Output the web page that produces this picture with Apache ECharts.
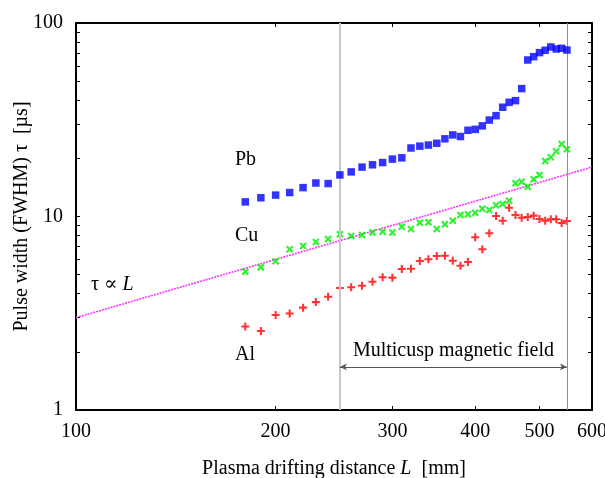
<!DOCTYPE html>
<html>
<head>
<meta charset="utf-8">
<script src="https://cdn.jsdelivr.net/npm/echarts@6/dist/echarts.min.js"></script>
<style>html,body{margin:0;padding:0;background:#fff}#c{width:605px;height:478px}</style>
</head>
<body>
<div id="c"></div>
<script>
// ---- data ----
const distance = [180,190,200,210,220,230,240,250,260,270,280,290,300,310,320,330,340,350,360,370,380,390,400,410,420,430,440,450,460,470,480,490,500,510,520,530,540,550];
const pb = [11.9,12.5,12.9,13.3,14.1,14.9,14.8,16.4,17.0,18.0,18.5,19.0,19.8,20.1,22.6,23.1,23.4,23.9,25.2,26.4,25.9,27.9,28.2,29.4,31.5,33.2,36.7,38.9,39.7,45.8,64.4,67.0,70.3,72.3,75.2,73.4,74.0,72.5];
const cu = [5.19,5.46,5.87,6.77,7.04,7.38,7.65,8.09,7.93,8.02,8.28,8.34,8.27,8.86,8.62,9.29,9.33,8.62,9.11,9.51,10.18,10.26,10.46,10.97,10.80,11.43,11.60,12.07,14.85,15.13,14.26,15.57,16.39,19.36,20.23,21.73,23.70,22.25];
const al = [2.70,2.56,3.10,3.15,3.38,3.61,3.85,4.27,4.31,4.39,4.60,4.85,4.83,5.35,5.37,5.89,6.01,6.25,6.27,5.91,5.57,5.82,7.81,6.77,8.19,10.06,9.51,11.10,10.18,9.86,9.94,10.10,9.71,9.51,9.67,9.67,9.26,9.48];
const fitL = [100, 600];
const fitTau = [3, 18];
const fieldStart = 250, fieldEnd = 550, arrowLevel = 1.67;
const xTickLabels = [100,200,300,400,500,600];
const xMinorTicks = [200,300,400,500];
const yTickLabels = [1,10,100];
const yMinorTicks = [2,3,4,5,6,7,8,9,10,20,30,40,50,60,70,80,90];

const FONT = '"Liberation Serif","DejaVu Serif",serif';
const FS = 20;
const plusPath = 'path://M3.7,0H6.3V3.7H10V6.3H6.3V10H3.7V6.3H0V3.7H3.7Z';

const chart = echarts.init(document.getElementById('c'), null, {renderer:'canvas'});
const baseX = {
  type:'log', logBase:10, min:100, max:600,
  axisLine:{show:true, onZero:false, lineStyle:{color:'#000', width:2}},
  splitLine:{show:false}, minorTick:{show:false}
};
const baseY = {
  type:'log', logBase:10, min:1, max:100,
  axisLine:{show:true, onZero:false, lineStyle:{color:'#000', width:2}},
  splitLine:{show:false}, minorTick:{show:false}
};
chart.setOption({
  animation:false,
  backgroundColor:'#fff',
  grid:{left:76, right:13, top:23, bottom:68, containLabel:false, outerBoundsMode:'none'},
  xAxis:[
    Object.assign({}, baseX, {
      position:'bottom',
      name:'Plasma drifting distance {i|L}  [mm]',
      nameLocation:'middle', nameGap:49, nameMoveOverlap:false,
      nameTextStyle:{fontFamily:FONT, fontSize:FS, color:'#000', rich:{i:{fontFamily:FONT, fontSize:FS, fontStyle:'italic', color:'#000'}}},
      axisTick:{show:true, inside:true, length:4, customValues:xMinorTicks, lineStyle:{color:'#000', width:1}},
      axisLabel:{show:true, customValues:xTickLabels, margin:12, fontFamily:FONT, fontSize:FS, color:'#000'}
    }),
    Object.assign({}, baseX, {
      position:'top',
      axisTick:{show:true, inside:true, length:4, customValues:xMinorTicks, lineStyle:{color:'#000', width:1}},
      axisLabel:{show:false}
    })
  ],
  yAxis:[
    Object.assign({}, baseY, {
      position:'left',
      name:'Pulse width (FWHM) τ  [µs]',
      nameLocation:'middle', nameGap:44, nameMoveOverlap:false,
      nameTextStyle:{fontFamily:FONT, fontSize:FS, color:'#000'},
      axisTick:{show:true, inside:true, length:4, customValues:yMinorTicks, lineStyle:{color:'#000', width:1}},
      axisLabel:{show:true, customValues:yTickLabels, margin:13, fontFamily:FONT, fontSize:FS, color:'#000'}
    }),
    Object.assign({}, baseY, {
      position:'right',
      axisTick:{show:true, inside:true, length:4, customValues:yMinorTicks, lineStyle:{color:'#000', width:1}},
      axisLabel:{show:false}
    })
  ],
  series:[
    {
      type:'line', name:'fit', data:fitL.map((l,i)=>[l,fitTau[i]]),
      showSymbol:false, symbol:'none', silent:true, z:2,
      lineStyle:{color:'#ff33ff', width:1.6, type:[2,1]},
      markLine:{
        silent:true, symbol:['none','none'], animation:false,
        label:{show:false},
        data:[
          {xAxis:fieldStart, lineStyle:{color:'#c8c8c8', width:2, type:'solid'}},
          {xAxis:fieldEnd, lineStyle:{color:'#909090', width:1, type:'solid'}}
        ]
      }
    },
    {
      type:'line', name:'arrow', data:[], silent:true,
      markLine:{
        silent:true, symbol:['arrow','arrow'], symbolSize:[5,7], animation:false,
        lineStyle:{color:'#555', width:1, type:'solid'},
        label:{show:true, position:'middle', distance:6, formatter:'Multicusp magnetic field', fontFamily:FONT, fontSize:FS, color:'#000'},
        data:[[{coord:[fieldStart, arrowLevel]},{coord:[fieldEnd, arrowLevel]}]]
      }
    },
    {
      type:'scatter', name:'Pb', data:distance.map((d,i)=>[d,pb[i]]),
      symbol:'rect', symbolSize:7.5, itemStyle:{color:'#0000ff'}, z:5
    },
    {
      type:'scatter', name:'Cu', data:distance.map((d,i)=>[d,cu[i]]),
      symbol:plusPath, symbolSize:8.5, symbolRotate:45, itemStyle:{color:'#00ee00'}, z:4
    },
    {
      type:'scatter', name:'Al', data:distance.map((d,i)=>[d,al[i]]),
      symbol:plusPath, symbolSize:8, itemStyle:{color:'#ff0000'}, z:4
    }
  ],
  graphic:[
    {type:'text', left:235, top:150, style:{text:'Pb', font:FS+'px '+FONT, fill:'#000'}},
    {type:'text', left:235, top:226, style:{text:'Cu', font:FS+'px '+FONT, fill:'#000'}},
    {type:'text', left:235, top:345, style:{text:'Al', font:FS+'px '+FONT, fill:'#000'}},
    {type:'text', left:91, top:275, style:{text:'τ ∝ {i|L}', font:FS+'px '+FONT, fill:'#000',
      rich:{i:{fontStyle:'italic', fontFamily:FONT, fontSize:FS, fill:'#000'}}}}
  ]
});
</script>
</body>
</html>
